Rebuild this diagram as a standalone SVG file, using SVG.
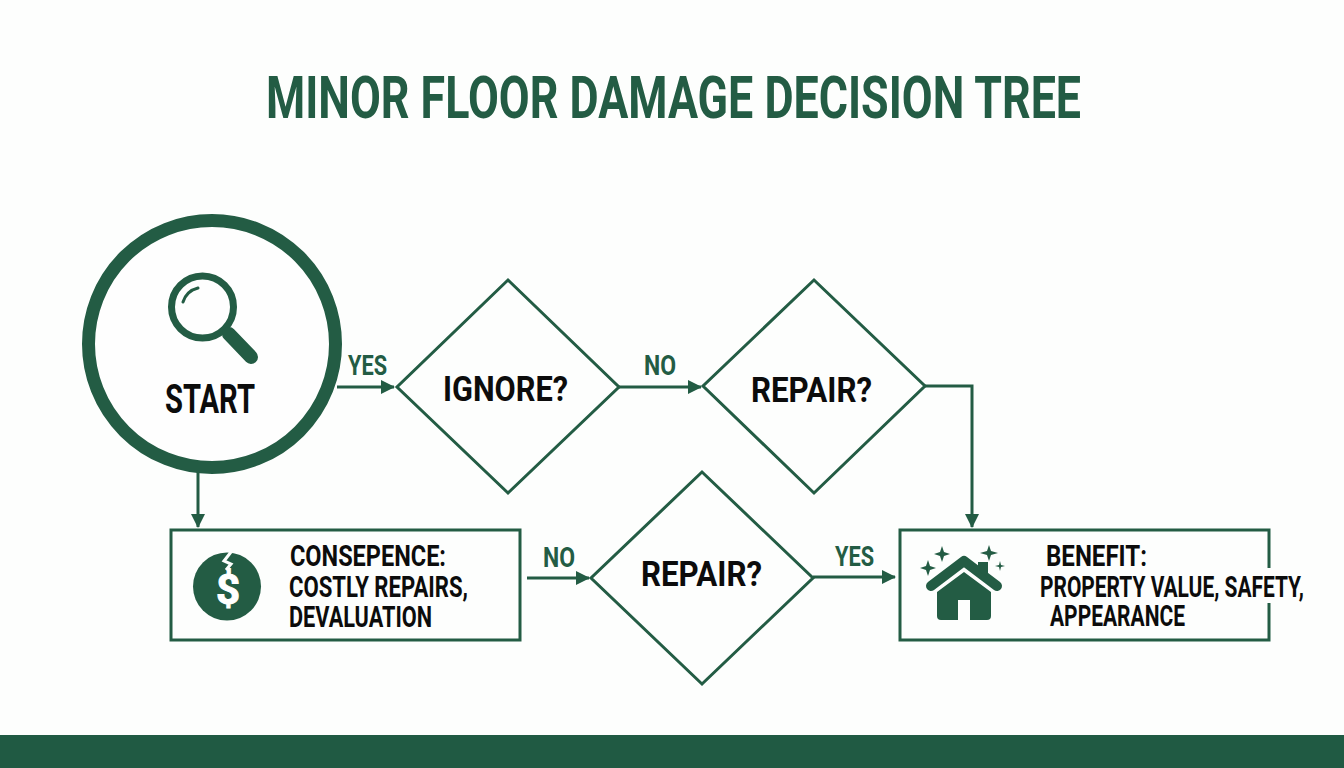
<svg xmlns="http://www.w3.org/2000/svg" width="1344" height="768" viewBox="0 0 1344 768">
<style>
text{font-family:Roboto,"Liberation Sans",sans-serif;font-weight:700;fill:#0c0c0c}
.t{font-size:35px}
.s{font-size:29px}
.l{font-size:28px;fill:#235c44}
.ln{fill:none;stroke:#235c44;stroke-width:3}
.g{fill:#235c44}
</style>
<defs>
<marker id="a" markerUnits="userSpaceOnUse" markerWidth="14" markerHeight="14" refX="13" refY="7" orient="auto"><path d="M0 0L14 7L0 14Z" fill="#235c44"/></marker>
</defs>
<rect width="1344" height="768" fill="#fdfefd"/>
<rect y="735" width="1344" height="33" fill="#205a43"/>
<text transform="translate(266 118) scale(.745 1)" font-size="60" textLength="1094" lengthAdjust="spacingAndGlyphs" style="fill:#235c44">MINOR FLOOR DAMAGE DECISION TREE</text>
<g id="connectors">
<path class="ln" marker-end="url(#a)" d="M337 387H394"/>
<path class="ln" marker-end="url(#a)" d="M198 472V527"/>
<path class="ln" marker-end="url(#a)" d="M619 387H701"/>
<path class="ln" marker-end="url(#a)" d="M925 386H972V527"/>
<path class="ln" marker-end="url(#a)" d="M527 578H589"/>
<path class="ln" marker-end="url(#a)" d="M813 577H895"/>
<text class="l" x="348" y="375" textLength="39" lengthAdjust="spacingAndGlyphs">YES</text>
<text class="l" x="644" y="375" textLength="32" lengthAdjust="spacingAndGlyphs">NO</text>
<text class="l" x="543" y="567" textLength="32" lengthAdjust="spacingAndGlyphs">NO</text>
<text class="l" x="835" y="566" textLength="39" lengthAdjust="spacingAndGlyphs">YES</text>
</g>
<g id="start">
<circle cx="212" cy="344" r="123.500" fill="#fefefe" stroke="#235c44" stroke-width="13"/>
<circle cx="202.500" cy="307" r="31" fill="none" stroke="#235c44" stroke-width="7"/>
<path d="M183 302A21 21 0 0 1 198 288" fill="none" stroke="#235c44" stroke-width="3" stroke-linecap="round"/>
<path d="M224 329L228 333" stroke="#235c44" stroke-width="7" fill="none"/>
<path d="M229 334L251 357" stroke="#235c44" stroke-width="14" stroke-linecap="round" fill="none"/>
<text x="165" y="413" font-size="40" textLength="90" lengthAdjust="spacingAndGlyphs">START</text>
</g>
<g id="ignore">
<path class="ln" d="M508 280L619 387L508 493L397 387Z"/>
<text class="t" x="443" y="401" textLength="125" lengthAdjust="spacingAndGlyphs">IGNORE?</text>
</g>
<g id="repair1">
<path class="ln" d="M814 280L925 386L814 493L703 386Z"/>
<text class="t" x="751" y="402" textLength="121" lengthAdjust="spacingAndGlyphs">REPAIR?</text>
</g>
<g id="repair2">
<path class="ln" d="M702 472L813 578L702 684L591 578Z"/>
<text class="t" x="641" y="586" textLength="121" lengthAdjust="spacingAndGlyphs">REPAIR?</text>
</g>
<g id="consequence">
<rect class="ln" x="171" y="530" width="349" height="110"/>
<circle class="g" cx="227" cy="586.500" r="34"/>
<path d="M231 552L224 561L231 564L226 570" fill="none" stroke="#fdfefd" stroke-width="3"/>
<text x="228" y="604" font-size="42" text-anchor="middle" style="fill:#fff;stroke:#fff;stroke-width:1">$</text>
<text class="s" x="290" y="566" textLength="156" lengthAdjust="spacingAndGlyphs">CONSEPENCE:</text>
<text class="s" x="289" y="597" textLength="179" lengthAdjust="spacingAndGlyphs">COSTLY REPAIRS,</text>
<text class="s" x="289" y="627" textLength="143" lengthAdjust="spacingAndGlyphs">DEVALUATION</text>
</g>
<g id="benefit">
<path class="ln" d="M1269 568V530H900V640H1269V603"/>
<path d="M931 586L964 561L997 586" fill="none" stroke="#235c44" stroke-width="10" stroke-linecap="round" stroke-linejoin="round"/>
<path class="g" d="M978 562H988V578L978 570Z"/>
<path class="g" d="M964 572L991 592V616Q991 620 987 620H970V600H958V620H941Q937 620 937 616V592Z"/>
<path class="g" d="M942 546L944 552L950 554L944 556L942 562L940 556L934 554L940 552Z"/>
<path class="g" d="M928 560L930 566L936 568L930 570L928 576L926 570L920 568L926 566Z"/>
<path class="g" d="M989 545L991 551L998 553L991 555L989 561L987 555L980 553L987 551Z"/>
<path class="g" d="M1000 561L1001 565L1005 566L1001 567L1000 571L999 567L995 566L999 565Z"/>
<text class="s" x="1046" y="566" textLength="101" lengthAdjust="spacingAndGlyphs">BENEFIT:</text>
<text class="s" transform="translate(1040 597) scale(.717 1)" textLength="368" lengthAdjust="spacingAndGlyphs">PROPERTY VALUE, SAFETY,</text>
<text class="s" x="1050" y="626" textLength="135" lengthAdjust="spacingAndGlyphs">APPEARANCE</text>
</g>
</svg>
